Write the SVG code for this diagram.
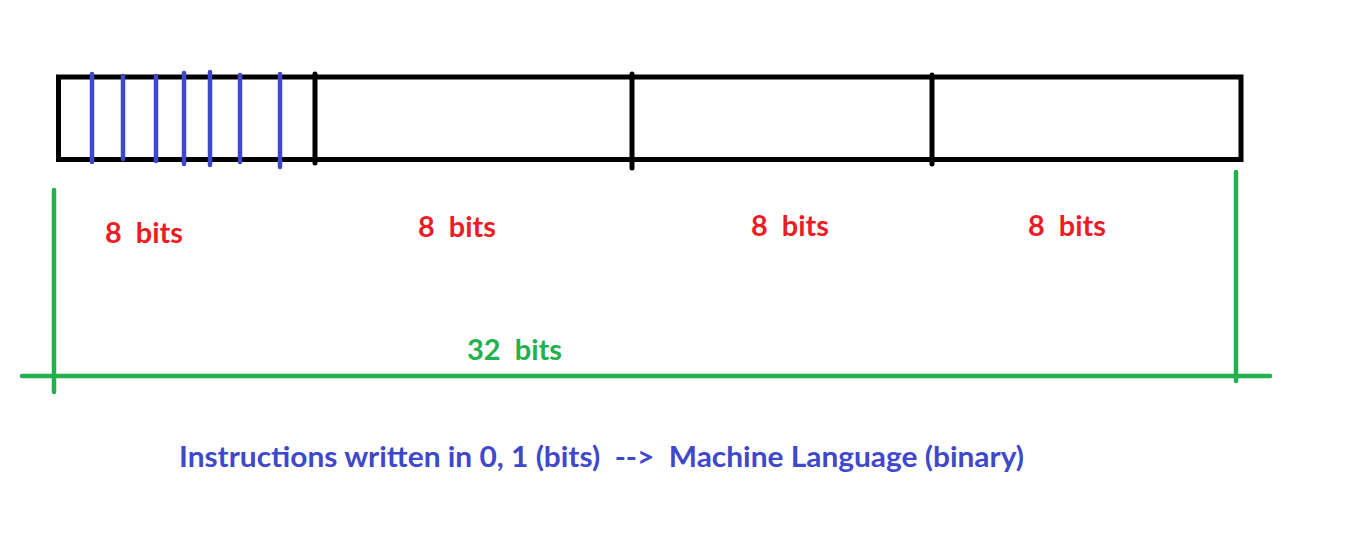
<svg xmlns="http://www.w3.org/2000/svg" width="1353" height="559" viewBox="0 0 1353 559">
<style>
.blk{stroke:#000;stroke-width:5;fill:none;stroke-linecap:round}
.blu{stroke:#3f48cc;stroke-width:4.5;stroke-linecap:round}
.grn{stroke:#22b14c;stroke-width:4.5;stroke-linecap:round}
.t{font-family:Lato,"Open Sans","Liberation Sans",sans-serif;font-weight:bold;font-size:29px}
.red{fill:#ed1c24}
.g{fill:#22b14c}
.b{fill:#3f48cc}
</style>
<rect width="1353" height="559" fill="#fff"/>
<g id="word">
<rect class="blk" x="58.5" y="77" width="1182.5" height="82.5" stroke-linecap="butt"/>
<line class="blk" x1="315" y1="74" x2="315" y2="163" stroke-width="4"/>
<line class="blk" x1="632" y1="74" x2="632" y2="168" stroke-width="4"/>
<line class="blk" x1="932" y1="75" x2="932" y2="164" stroke-width="4"/>
</g>
<g id="bits">
<line class="blu" x1="92" y1="74" x2="92" y2="162"/>
<line class="blu" x1="123" y1="76" x2="123" y2="159"/>
<line class="blu" x1="156" y1="76" x2="156" y2="161"/>
<line class="blu" x1="184" y1="73" x2="184" y2="164"/>
<line class="blu" x1="210" y1="72" x2="210" y2="165"/>
<line class="blu" x1="240" y1="75" x2="240" y2="162"/>
<line class="blu" x1="280" y1="74" x2="280" y2="167"/>
</g>
<g id="connectors">
<line class="grn" x1="54" y1="190" x2="54" y2="392"/>
<line class="grn" x1="1236" y1="172" x2="1236" y2="381"/>
<line class="grn" x1="22" y1="376" x2="1270" y2="376"/>
</g>
<g id="labels">
<text class="t red" x="105" y="243" textLength="78" lengthAdjust="spacingAndGlyphs" xml:space="preserve">8  bits</text>
<text class="t red" x="418" y="237" textLength="78" lengthAdjust="spacingAndGlyphs" xml:space="preserve">8  bits</text>
<text class="t red" x="751" y="236" textLength="78" lengthAdjust="spacingAndGlyphs" xml:space="preserve">8  bits</text>
<text class="t red" x="1028" y="236" textLength="78" lengthAdjust="spacingAndGlyphs" xml:space="preserve">8  bits</text>
<text class="t g" x="467" y="360" textLength="95" lengthAdjust="spacingAndGlyphs" xml:space="preserve">32  bits</text>
<text class="t b" x="179" y="467" textLength="845" lengthAdjust="spacingAndGlyphs" xml:space="preserve">Instructions written in 0, 1 (bits)  -->  Machine Language (binary)</text>
</g>
</svg>
